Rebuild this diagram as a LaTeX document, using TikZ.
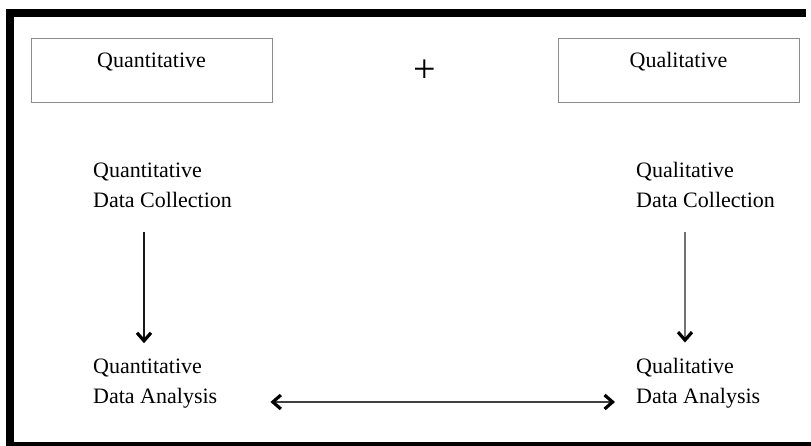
\documentclass[tikz,border=0pt]{standalone}
\usepackage{fontspec}
\setmainfont{Liberation Serif}
\usetikzlibrary{arrows.meta}

\begin{document}
\begin{tikzpicture}[x=1pt,y=-1pt,
        lbl/.style={anchor=base west, inner sep=0pt, font=\fontsize{22}{26}\selectfont},
        topbox/.style={draw=black!45, line width=1pt, inner sep=0pt, minimum width=241pt,
                text height=29pt, text depth=35pt, font=\fontsize{22}{26}\selectfont},
        barb/.tip={Straight Barb[length=8pt,width=14pt,line width=3.2pt,color=black]},
        arr/.style={draw=black!75, line width=1.3pt, -barb}]
        \useasboundingbox (0,0) rectangle (811,446);
        % frame
        \fill (6,9) rectangle (806,17);
        \fill (6,9) rectangle (14,446);
        \fill (6,442) rectangle (811,446);

        \node [topbox] (quan) at (151.5,71) {Quantitative};
        \node [topbox] (qual) at (678.5,71) {Qualitative};
        \node [inner sep=0pt, font=\fontsize{40}{40}\selectfont] (plus) at (425,71) {+};

        \node [lbl] (quancoll1) at (93,178) {Quantitative};
        \node [lbl] (quancoll2) at (93,208) {Data Collection};
        \node [lbl] (quanana1) at (93,373) {Quantitative};
        \node [lbl] (quanana2) at (93,403) {Data Analysis};

        \node [lbl] (qualcoll1) at (636,178) {Qualitative};
        \node [lbl] (qualcoll2) at (636,208) {Data Collection};
        \node [lbl] (qualana1) at (636,373) {Qualitative};
        \node [lbl] (qualana2) at (636,403) {Data Analysis};

        \coordinate (lcol) at (144,0);
        \coordinate (rcol) at (685,0);
        \draw [arr, draw=black!90, shorten <=24pt, shorten >=15pt] (quancoll2.south -| lcol) -- (quanana1.north -| lcol);
        \draw [arr, draw=black!55, shorten <=24pt, shorten >=15pt] (qualcoll2.south -| rcol) -- (qualana1.north -| rcol);
        \draw [arr, barb-barb, shorten <=53pt, shorten >=21pt] ([yshift=1pt]quanana2.base east) -- ([yshift=1pt]qualana2.base west);
    \end{tikzpicture}
\end{document}
